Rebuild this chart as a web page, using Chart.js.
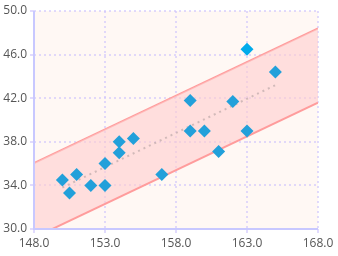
<!DOCTYPE html>
<html>
<head>
<meta charset="utf-8">
<script src="https://cdn.jsdelivr.net/npm/chart.js@4/dist/chart.umd.min.js"></script>
<style>
  html, body { margin: 0; padding: 0; background: #fff; }
  #wrap { width: 338px; height: 256px; }
</style>
</head>
<body>
<div id="wrap"><canvas id="chart"></canvas></div>
<script>
// observations
const heightX = [150, 150.5, 151, 152, 153, 153, 154, 154, 155, 157, 159, 159, 160, 161, 162, 163, 165];
const weightY = [34.5, 33.3, 35, 34, 34, 36, 38, 37, 38.3, 35, 41.8, 39, 39, 37.1, 41.7, 39, 44.4];
const outlierX = [163];
const outlierY = [46.5];

// fitted line and prediction band
const fitX = [150, 165];
const fitY = [33.8, 43.2];
const bandX = [148, 168];
const bandUpper = [36.05, 48.4];
const bandLower = [29.2, 41.6];

const xTicks = [148, 153, 158, 163, 168];
const yTicks = [30, 34, 38, 42, 46, 50];

const toPts = (xs, ys) => xs.map((x, i) => ({ x, y: ys[i] }));

// light background behind the plot area
const plotBg = {
    id: 'plotBg',
    beforeDraw(chart) {
        const { ctx, chartArea: a } = chart;
        ctx.save();
        ctx.fillStyle = '#fff8f4';
        ctx.fillRect(a.left, a.top, a.right - a.left, a.bottom - a.top);
        ctx.restore();
    }
};

// solid lavender axis lines on the left and bottom
const axisLines = {
    id: 'axisLines',
    afterDraw(chart) {
        const { ctx, chartArea: a } = chart;
        ctx.save();
        ctx.strokeStyle = '#c8c8ff';
        ctx.lineWidth = 2;
        ctx.beginPath();
        ctx.moveTo(a.left, a.top);
        ctx.lineTo(a.left, a.bottom);
        ctx.lineTo(a.right, a.bottom);
        ctx.stroke();
        ctx.restore();
    }
};

const gridCfg = {
    color: 'rgba(205,195,252,0.6)',
    lineWidth: 2,
    tickLength: 4,
    tickColor: 'rgba(205,195,252,0.6)'
};

new Chart(document.getElementById('chart').getContext('2d'), {
    type: 'scatter',
    data: {
        datasets: [
            {
                type: 'line',
                data: toPts(bandX, bandUpper),
                borderColor: '#ff9c9c',
                borderWidth: 2,
                pointRadius: 0,
                fill: false,
                order: 5
            },
            {
                type: 'line',
                data: toPts(bandX, bandLower),
                borderColor: '#ff9c9c',
                borderWidth: 2,
                pointRadius: 0,
                backgroundColor: 'rgba(255,205,205,0.6)',
                fill: '-1',
                order: 4
            },
            {
                type: 'line',
                data: toPts(fitX, fitY),
                borderColor: 'rgba(190,170,170,0.7)',
                borderWidth: 2,
                borderDash: [2, 4],
                pointRadius: 0,
                fill: false,
                order: 3
            },
            {
                data: toPts(heightX, weightY),
                pointStyle: 'rectRot',
                pointRadius: 6.5,
                pointBorderWidth: 0,
                backgroundColor: '#22a0da',
                order: 1
            },
            {
                data: toPts(outlierX, outlierY),
                pointStyle: 'rectRot',
                pointRadius: 6.5,
                pointBorderWidth: 0,
                backgroundColor: '#00abeb',
                order: 0
            }
        ]
    },
    options: {
        responsive: true,
        maintainAspectRatio: false,
        animation: false,
        layout: { padding: { top: 11, right: 20, left: 0, bottom: 0 } },
        plugins: { legend: { display: false }, tooltip: { enabled: false } },
        scales: {
            x: {
                type: 'linear',
                min: 148,
                max: 168,
                afterBuildTicks: s => { s.ticks = xTicks.map(v => ({ value: v })); },
                afterFit: s => { s.height = 27; },
                grid: gridCfg,
                border: { display: false, dash: [2, 3] },
                ticks: {
                    color: '#555',
                    font: { family: 'Open Sans', size: 12 },
                    padding: 3,
                    callback: v => v.toFixed(1)
                }
            },
            y: {
                min: 30,
                max: 50,
                afterBuildTicks: s => { s.ticks = yTicks.map(v => ({ value: v })); },
                afterFit: s => { s.width = 34; },
                grid: gridCfg,
                border: { display: false, dash: [2, 3] },
                ticks: {
                    color: '#555',
                    font: { family: 'Open Sans', size: 12 },
                    padding: 3,
                    callback: v => v.toFixed(1)
                }
            }
        }
    },
    plugins: [plotBg, axisLines]
});
</script>
</body>
</html>
